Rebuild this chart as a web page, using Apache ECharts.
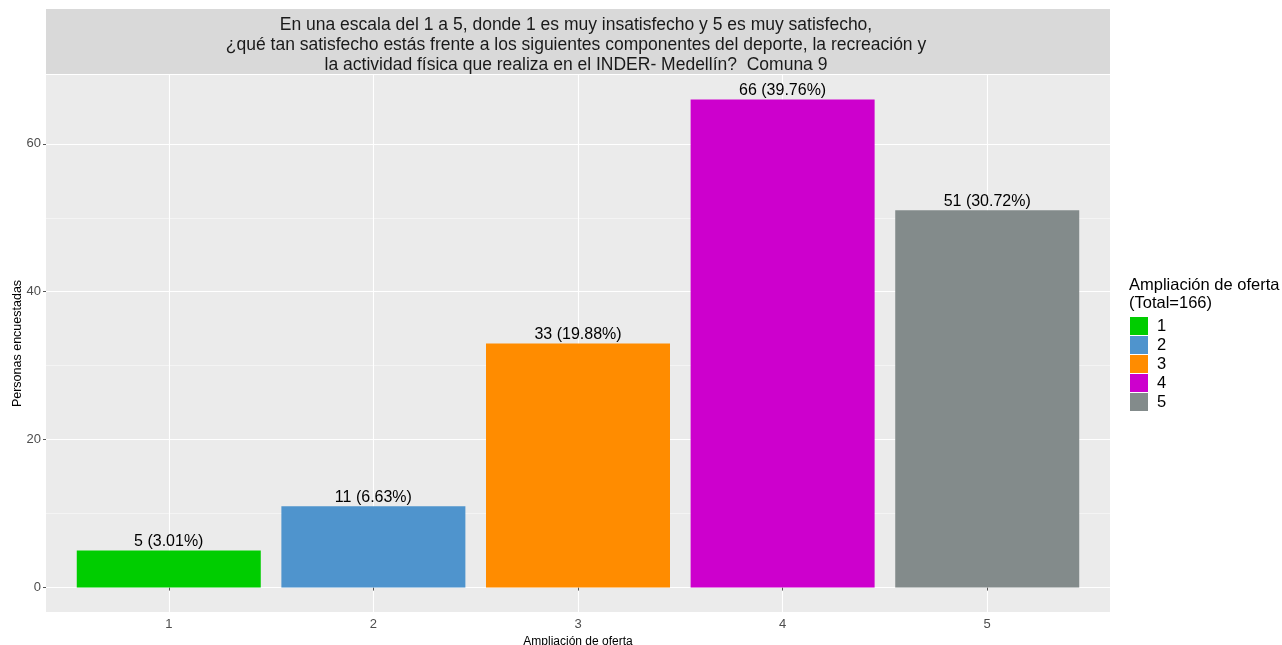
<!DOCTYPE html>
<html>
<head>
<meta charset="utf-8">
<script src="https://cdn.jsdelivr.net/npm/echarts@6/dist/echarts.min.js"></script>
<style>html,body{margin:0;padding:0;background:#fff;}#c{width:1282px;height:645px;}</style>
</head>
<body>
<div id="c"></div>
<script>
const categories = ['1', '2', '3', '4', '5'];
const values = [5, 11, 33, 66, 51];
const percentLabels = ['3.01%', '6.63%', '19.88%', '39.76%', '30.72%'];
const colors = ['#00CD00', '#4F94CD', '#FF8C00', '#CD00CD', '#838B8B'];
const yMajorTicks = [0, 20, 40, 60];
const yMinorTicks = [10, 30, 50];
const titleLines = [
  'En una escala del 1 a 5, donde 1 es muy insatisfecho y 5 es muy satisfecho,',
  '¿qué tan satisfecho estás frente a los siguientes componentes del deporte, la recreación y',
  'la actividad física que realiza en el INDER- Medellín?  Comuna 9'
];
const legendTitle = 'Ampliación de oferta\n(Total=166)';
const xTitle = 'Ampliación de oferta';
const yTitle = 'Personas encuestadas';

const FONT = '"Liberation Sans", Arial, sans-serif';
const xPositions = categories.map((c, i) => i + 1);

const series = categories.map((c, i) => ({
  name: c,
  type: 'bar',
  xAxisIndex: 0,
  yAxisIndex: 0,
  barWidth: 184,
  barGap: '-100%',
  itemStyle: { color: colors[i] },
  label: {
    show: true,
    position: 'top',
    distance: 1,
    color: '#000',
    fontSize: 16,
    fontFamily: FONT,
    formatter: () => values[i] + ' (' + percentLabels[i] + ')'
  },
  emphasis: { disabled: true },
  data: [[xPositions[i], values[i]]]
}));

const chart = echarts.init(document.getElementById('c'), null, { renderer: 'canvas' });
chart.setOption({
  animation: false,
  backgroundColor: '#ffffff',
  textStyle: { fontFamily: FONT },
  grid: {
    left: 46, right: 172, top: 75, bottom: 33,
    outerBoundsMode: 'none', containLabel: false,
    show: true, backgroundColor: '#EBEBEB', borderWidth: 0
  },
  graphic: [
    { type: 'rect', shape: { x: 46, y: 9, width: 1064, height: 65 }, style: { fill: '#D9D9D9' }, z: -1 },
    { type: 'text', left: 576 - 500, top: 15, style: { text: titleLines.join('\n'), width: 1000, align: 'center', x: 500, textAlign: 'center', fill: '#1A1A1A', font: '17.5px ' + FONT, lineHeight: 20 } },
    { type: 'text', left: 1129, top: 276, style: { text: legendTitle, fill: '#000', font: '16.5px ' + FONT, lineHeight: 18 } }
  ],
  legend: {
    orient: 'vertical',
    left: 1130, top: 317, padding: 0,
    itemWidth: 18, itemHeight: 18, itemGap: 1,
    icon: 'rect',
    textStyle: { fontSize: 16.5, color: '#000', fontFamily: FONT, padding: [0, 0, 0, 4] },
    selectedMode: false,
    data: categories
  },
  xAxis: [{
    type: 'value', min: 0.4, max: 5.6,
    name: xTitle, nameLocation: 'middle', nameGap: 24,
    nameTextStyle: { fontSize: 12, color: '#000', fontFamily: FONT },
    axisLine: { show: false },
    axisTick: { show: true, length: 3, lineStyle: { color: '#555555' }, customValues: xPositions },
    axisLabel: { color: '#4D4D4D', fontSize: 13, margin: 6, customValues: xPositions, formatter: v => categories[Math.round(v) - 1] || '' },
    splitLine: { show: true, lineStyle: { color: '#FFFFFF', width: 1.1 } }
  }],
  yAxis: [{
    type: 'value', min: -3.3, max: 69.3,
    name: yTitle, nameLocation: 'middle', nameGap: 22, nameMoveOverlap: false,
    nameTextStyle: { fontSize: 12.5, color: '#000', fontFamily: FONT },
    axisLine: { show: false },
    axisTick: { show: true, length: 3, lineStyle: { color: '#555555' }, customValues: yMajorTicks },
    axisLabel: { color: '#4D4D4D', fontSize: 13, margin: 5, customValues: yMajorTicks },
    splitLine: { show: true, lineStyle: { color: '#FFFFFF', width: 1.1 } }
  }, {
    type: 'value', min: -3.3, max: 69.3, position: 'left',
    axisLine: { show: false }, axisTick: { show: false, customValues: yMinorTicks },
    axisLabel: { show: false, customValues: yMinorTicks },
    splitLine: { show: true, lineStyle: { color: '#F6F6F6', width: 0.8 } }
  }],
  series: series
});
</script>
</body>
</html>
